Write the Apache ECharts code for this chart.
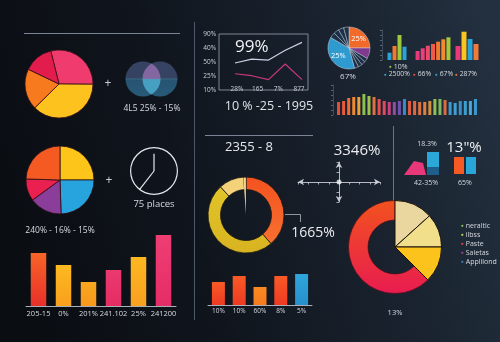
<!DOCTYPE html>
<html><head><meta charset="utf-8">
<script src="https://cdn.jsdelivr.net/npm/echarts/dist/echarts.min.js"></script>
<style>html,body{margin:0;padding:0;background:#0d1117}#c{width:500px;height:342px}</style>
</head><body><div id="c"></div>
<script>
// ---------- values ----------
const warmPie = [29, 37.5, 19.5, 14];
const trendLevels = ['10%', '25%', '50%', '40%', '90%'];
const trendTicks = ['28%', '165', '7%', '877'];
const trendSteps = ['s1', 's2', 's3', 's4', 's5'];
const trendUpper = [1.93, 2.21, 2.14, 2.84, 3.40];
const trendLower = [1.16, 1.02, 0.74, 1.86, 0.74];
const segPie = [25, 8.33, 3.1, 3.1, 3.1, 3.2, 37.5, 4.2, 4.2, 4.2, 4.07];
const segPieLabels = ['25%', '', '', '', '', '', '25%', '', '', '', ''];
const miniA = [7.3, 14, 25, 13.3];
const miniB = [9, 11.7, 14.3, 16, 18.3, 20.7, 22.7];
const miniC = [14, 28.3, 21, 16];
const miniLegendTop = ['10%'];
const miniLegendRow = ['2500%', '66%', '67%', '287%'];
const stripValues = [13, 14, 17, 18, 18, 21, 19, 18, 16, 14, 13, 13, 14, 16, 14, 14, 13, 13, 14, 16, 16, 15, 13, 12, 14, 14, 14, 16];
const vennSets = [[17, 18], [34, 18]];
const vennOverlap = [[25.5, 18]];
const quadPie = [25, 24.5, 15.5, 10.5, 24.5];
const clockHands = [0, 7.26];
const barCats = ['205-15', '0%', '201%', '241.102', '25%', '241200'];
const barValues = [53, 41, 24, 36, 49, 71];
const ringValues = [38.6, 49.7, 10.8, 0.9];
const needleValues = [1, 99];
const smallCats = ['10%', '10%', '60%', '8%', '5%'];
const smallValues = [23, 29, 18, 29, 31];
const bigWedges = [13.3, 11.7, 12.5];
const bigRingShare = 62.5;
const legendNames = ['neraltic', 'ilbss', 'Paste', 'Saletas', 'Applilond'];
const wedgeShape = [[0, 0], [10, 14], [19, 12], [22, 0]];
const splitBar = [8, 15];
const pairBars = [17, 17];
const crossCenter = [[0, 0]];

// ---------- palette ----------
const FONT = "'Open Sans', 'Noto Sans', sans-serif";
const TXT = '#d6d9df';
const warmColors = ['#ef3b6e', '#fdc21e', '#f77a1f', '#e21d4d'];
const segColors = ['#f26a2a', '#7d3a8e', '#1d3048', '#1d3048', '#1d3048', '#1d3048', '#2e9ad0', '#1d3048', '#1d3048', '#1d3048', '#1d3048'];
const quadColors = ['#fdc419', '#27a3dd', '#8a3e9a', '#ea2050', '#f55a23'];
const miniAColors = ['#2aa3d9', '#f07a2e', '#9cc83c', '#2aa3d9'];
const miniBColors = ['#e8397a', '#e8407a', '#ec4a6a', '#f05a48', '#f27a30', '#f28a2e', '#a6c83a'];
const miniCColors = ['#e8397a', '#f8c61e', '#2aa3d9', '#f07a3a'];
const miniLegendColors = ['#8cc84a', '#3aa0d8', '#e8504a', '#3aa0d8', '#f07a3a'];
const stripColors = ['#e0503a', '#e85a3a', '#f06a35', '#f08a30', '#e8a040', '#8cc050', '#a0c050', '#e07040',
  '#e05050', '#e04a60', '#c84080', '#9050a0', '#7050b0', '#3a8ac8', '#e05a40', '#e06a40', '#e07040', '#e08040',
  '#d09040', '#90c050', '#80b860', '#e06a40', '#3a9ad0', '#40a0d0', '#3a90c8', '#3aa0d0', '#4aa8d8', '#3a9ad0'];
const barGrad = [['#f86428', '#e8302a'], ['#fcba20', '#f8a01e'], ['#f9a81e', '#f8981c'], ['#ea3a70', '#e42c62'], ['#fcb820', '#f8a020'], ['#ee3e74', '#e62c66']];
const smallGrad = [['#f85a26', '#ee3a22'], ['#f85a26', '#ee3a22'], ['#fa8a22', '#f67a1e'], ['#f85a26', '#ee3a22'], ['#2ea6dc', '#2690cc']];
const legendColors = ['#8cc850', '#cfd86a', '#e04a6a', '#9a4aa8', '#3a8ac8'];

const lin = (a, b) => ({ type: 'linear', x: 0, y: 0, x2: 0, y2: 1, colorStops: [{ offset: 0, color: a }, { offset: 1, color: b }] });
const hidden = { show: false };

const grid = [], xAxis = [], yAxis = [], series = [];
function addGrid(g, x, y) {
  const i = grid.length;
  grid.push(Object.assign({ containLabel: false, outerBoundsMode: 'none' }, g));
  xAxis.push(Object.assign({ gridIndex: i }, x));
  yAxis.push(Object.assign({ gridIndex: i }, y));
  return i;
}
const bareValue = (min, max) => ({ type: 'value', min, max, show: false });
const bareCat = (data, gap) => ({ type: 'category', data, boundaryGap: gap, show: false });

// ---------- trend panel ----------
addGrid({ left: 219, top: 34, width: 89, height: 56, show: true, borderColor: '#9aa3b2', borderWidth: 0.8 },
  bareValue(0, 1),
  { type: 'value', min: 0, max: 4, interval: 1, axisLine: hidden, axisTick: hidden, splitLine: hidden,
    axisLabel: { color: '#c9ced8', fontSize: 6.5, margin: 3, fontFamily: FONT, formatter: v => trendLevels[v] } });
const gTrend = addGrid({ left: 235, top: 34, width: 67, height: 56 }, bareCat(trendSteps, false), bareValue(0, 4));
series.push({ type: 'line', xAxisIndex: gTrend, yAxisIndex: gTrend, data: trendUpper, showSymbol: false,
  lineStyle: { color: '#cfd0e6', width: 1.2 }, silent: true });
series.push({ type: 'line', xAxisIndex: gTrend, yAxisIndex: gTrend, data: trendLower, showSymbol: false,
  lineStyle: { color: '#c8387e', width: 1.2 }, silent: true });
addGrid({ left: 237, top: 34, width: 62, height: 50 },
  { type: 'category', data: trendTicks, boundaryGap: false, axisLine: hidden, axisTick: hidden,
    axisLabel: { color: '#c9ced8', fontSize: 6.5, margin: 2, fontFamily: FONT } },
  bareValue(0, 1));

// ---------- mini bar groups ----------
const gA = addGrid({ left: 387, top: 30, width: 20, height: 30 }, bareCat(miniA.map((_, i) => 'a' + i), true),
  { type: 'value', min: 0, max: 30, interval: 5, offset: 5, axisLine: { show: true, lineStyle: { color: '#5a6a80', width: 0.6 } },
    axisTick: { show: true, length: 2, lineStyle: { color: '#8090a4', width: 0.6 } }, axisLabel: hidden, splitLine: hidden });
series.push({ type: 'bar', xAxisIndex: gA, yAxisIndex: gA, barWidth: 4, silent: true,
  data: miniA.map((v, i) => ({ value: v, itemStyle: { color: miniAColors[i] } })) });
const gB = addGrid({ left: 415, top: 30, width: 36, height: 30 }, bareCat(miniB.map((_, i) => 'b' + i), true), bareValue(0, 30));
series.push({ type: 'bar', xAxisIndex: gB, yAxisIndex: gB, barWidth: 4, silent: true,
  data: miniB.map((v, i) => ({ value: v, itemStyle: { color: miniBColors[i] } })) });
const gC = addGrid({ left: 455, top: 30, width: 24, height: 30 }, bareCat(miniC.map((_, i) => 'c' + i), true), bareValue(0, 30));
series.push({ type: 'bar', xAxisIndex: gC, yAxisIndex: gC, barWidth: 5, silent: true,
  data: miniC.map((v, i) => ({ value: v, itemStyle: { color: miniCColors[i] } })) });

// ---------- thin strip ----------
const gS = addGrid({ left: 336, top: 85, width: 142, height: 30 }, bareCat(stripValues.map((_, i) => 's' + i), true),
  { type: 'value', min: 0, max: 30, interval: 5, offset: 3, axisLine: { show: true, lineStyle: { color: '#55657a', width: 0.6 } },
    axisTick: { show: true, length: 2, lineStyle: { color: '#8090a4', width: 0.6 } }, axisLabel: hidden, splitLine: hidden });
series.push({ type: 'bar', xAxisIndex: gS, yAxisIndex: gS, barWidth: 3, silent: true,
  data: stripValues.map((v, i) => ({ value: v, itemStyle: { color: stripColors[i] } })) });

// ---------- venn ----------
const vennFill = { type: 'linear', x: 0, y: 0, x2: 0, y2: 1, colorStops: [
  { offset: 0, color: '#3d4a6e' }, { offset: 0.46, color: '#3d4a6e' }, { offset: 0.5, color: '#3b7090' },
  { offset: 0.54, color: '#2a5f80' }, { offset: 1, color: '#2c6888' }] };
const lensFill = { type: 'linear', x: 0, y: 0, x2: 0, y2: 1, colorStops: [
  { offset: 0, color: '#8a6aa6' }, { offset: 0.48, color: '#8a6aa6' }, { offset: 0.52, color: '#4aa6c8' }, { offset: 1, color: '#4aa6c8' }] };
const gV = addGrid({ left: 126, top: 61, width: 51, height: 36 }, bareValue(0, 51), bareValue(0, 36));
series.push({ type: 'scatter', xAxisIndex: gV, yAxisIndex: gV, data: vennSets, symbolSize: 35, silent: true,
  itemStyle: { color: vennFill, opacity: 0.85 } });
series.push({ type: 'scatter', xAxisIndex: gV, yAxisIndex: gV, data: vennOverlap, silent: true,
  symbol: 'path://M9,0 A17.5,17.5 0 0,1 9,30.6 A17.5,17.5 0 0,1 9,0 Z', symbolSize: [18, 31],
  itemStyle: { color: lensFill, opacity: 0.9 } });

// ---------- bottom-left bars ----------
const gBar = addGrid({ left: 26, top: 226, width: 150, height: 80 },
  { type: 'category', data: barCats, axisLine: { lineStyle: { color: '#aab0ba', width: 1 } }, axisTick: hidden,
    axisLabel: { color: TXT, fontSize: 7.5, margin: 4, fontFamily: FONT, interval: 0 } },
  bareValue(0, 80));
series.push({ type: 'bar', xAxisIndex: gBar, yAxisIndex: gBar, barWidth: 15.5, silent: true,
  data: barValues.map((v, i) => ({ value: v, itemStyle: { color: lin(barGrad[i][0], barGrad[i][1]) } })) });

// ---------- crosshair ----------
const crossAxis = (min, max) => ({ type: 'value', min, max, interval: 1,
  axisLine: { show: true, onZero: true, symbol: ['arrow', 'arrow'], symbolSize: [5, 6], lineStyle: { color: '#c8ccd4', width: 0.9 } },
  axisTick: { show: true, length: 2.5, lineStyle: { color: '#c8ccd4', width: 0.8 } }, axisLabel: hidden, splitLine: hidden });
const gX = addGrid({ left: 298, top: 162, width: 82, height: 40 }, crossAxis(-4, 4), crossAxis(-2, 2));
series.push({ type: 'scatter', xAxisIndex: gX, yAxisIndex: gX, data: crossCenter, symbolSize: 5, silent: true,
  itemStyle: { color: '#f2f4f6' } });

// ---------- bottom-middle bars ----------
const gSm = addGrid({ left: 208, top: 270, width: 104, height: 35 },
  { type: 'category', data: smallCats, axisLine: { lineStyle: { color: '#aab0ba', width: 1 } }, axisTick: hidden,
    axisLabel: { color: TXT, fontSize: 6.5, margin: 3, fontFamily: FONT, interval: 0 } },
  bareValue(0, 35));
series.push({ type: 'bar', xAxisIndex: gSm, yAxisIndex: gSm, barWidth: 13, silent: true,
  data: smallValues.map((v, i) => ({ value: v, itemStyle: { color: lin(smallGrad[i][0], smallGrad[i][1]) } })) });

// ---------- right-middle shapes ----------
const gW = addGrid({ left: 404, top: 150, width: 40, height: 25 }, bareValue(0, 40), bareValue(0, 25));
series.push({ type: 'line', xAxisIndex: gW, yAxisIndex: gW, data: wedgeShape, showSymbol: false, silent: true,
  lineStyle: { width: 0 }, areaStyle: { color: '#e8387a', opacity: 1 } });
const gSb = addGrid({ left: 427, top: 150, width: 12, height: 25 }, bareCat(['x'], true), bareValue(0, 25));
series.push({ type: 'bar', xAxisIndex: gSb, yAxisIndex: gSb, stack: 'sb', barWidth: 12, silent: true,
  data: [splitBar[0]], itemStyle: { color: '#1d5f8a' } });
series.push({ type: 'bar', xAxisIndex: gSb, yAxisIndex: gSb, stack: 'sb', barWidth: 12, silent: true,
  data: [splitBar[1]], itemStyle: { color: '#2aa8d8' } });
const gP = addGrid({ left: 453, top: 150, width: 24, height: 24 }, bareCat(['o', 'b'], true), bareValue(0, 24));
series.push({ type: 'bar', xAxisIndex: gP, yAxisIndex: gP, barWidth: 10, silent: true,
  data: [{ value: pairBars[0], itemStyle: { color: '#f55a25' } }, { value: pairBars[1], itemStyle: { color: '#2aa5d8' } }] });

// ---------- pies ----------
series.push({ type: 'pie', center: [59, 84], radius: 34, startAngle: 104, silent: true, label: hidden,
  itemStyle: { borderColor: '#3a0f18', borderWidth: 0.8 },
  data: warmPie.map((v, i) => ({ value: v, itemStyle: { color: warmColors[i] } })) });
series.push({ type: 'pie', center: [349, 48], radius: 21, startAngle: 90, silent: true,
  itemStyle: { borderColor: '#c8d2de', borderWidth: 0.5 },
  label: { show: true, position: 'inside', color: '#ffffff', fontSize: 7.5, fontFamily: FONT, formatter: p => segPieLabels[p.dataIndex] },
  labelLine: hidden,
  data: segPie.map((v, i) => ({ value: v, itemStyle: { color: segColors[i] } })) });
series.push({ type: 'pie', center: [60, 180], radius: 34, startAngle: 90, silent: true, label: hidden,
  itemStyle: { borderColor: '#2a0f14', borderWidth: 0.8 },
  data: quadPie.map((v, i) => ({ value: v, itemStyle: { color: quadColors[i] } })) });
const ringColors = [lin('#f4521f', '#f87030'), lin('#e2c42a', '#d8b420'), '#f3d27a', '#f3d890'];
series.push({ type: 'pie', center: [246, 215], radius: [25.5, 38], startAngle: 90, silent: true, label: hidden,
  itemStyle: { borderColor: '#1c1a14', borderWidth: 0.8 },
  data: ringValues.map((v, i) => ({ value: v, itemStyle: { color: ringColors[i] } })) });
series.push({ type: 'pie', center: [246, 215], radius: [0, 37], startAngle: 94, silent: true, label: hidden,
  data: [{ value: needleValues[0], itemStyle: { color: '#f0d890' } }, { value: needleValues[1], itemStyle: { color: 'rgba(0,0,0,0)' } }] });
const wedgeColors = ['#ead7a0', '#f2df8c', '#fcc31d'];
series.push({ type: 'pie', center: [395, 247], radius: [27, 46.5], startAngle: 90, silent: true, label: hidden,
  data: [{ value: 100 - bigRingShare, itemStyle: { color: 'rgba(0,0,0,0)' } },
         { value: bigRingShare, itemStyle: { color: lin('#f2521e', '#e81c50'), borderColor: '#3a0a10', borderWidth: 0.6 } }] });
series.push({ type: 'pie', center: [395, 247], radius: [0, 46.5], startAngle: 90, silent: true, label: hidden,
  data: bigWedges.map((v, i) => ({ value: v, itemStyle: { color: wedgeColors[i], borderColor: '#1a1208', borderWidth: 1 } }))
    .concat([{ value: bigRingShare, itemStyle: { color: 'rgba(0,0,0,0)', borderWidth: 0 } }]) });

// ---------- clock ----------
[[clockHands[0], '72%'], [clockHands[1], '100%']].forEach(([h, len], k) => {
  series.push({ type: 'gauge', center: [154, 171], radius: 24, startAngle: 90, endAngle: -270, min: 0, max: 12, silent: true,
    axisLine: { show: k === 0, lineStyle: { width: 1.2, color: [[1, '#e6e8ec']] } },
    axisTick: hidden, splitLine: hidden, axisLabel: hidden, progress: hidden,
    pointer: { icon: 'rect', length: len, width: 1.2, offsetCenter: [0, 0] }, itemStyle: { color: '#e6e8ec' },
    anchor: hidden, title: hidden, detail: hidden, data: [{ value: h }] });
});

// ---------- text and rules ----------
const text = (t, x, y, size, opts) => ({ type: 'text', x, y, silent: true,
  style: Object.assign({ text: t, fill: TXT, font: size + 'px ' + FONT, textAlign: 'center', textVerticalAlign: 'middle', verticalAlign: 'middle' }, opts || {}) });
const rule = (x1, y1, x2, y2, c) => ({ type: 'line', silent: true, shape: { x1, y1, x2, y2 }, style: { stroke: c || '#5d6878', lineWidth: 1 } });

const graphic = [
  rule(194.5, 22, 194.5, 320, '#4e5868'),
  rule(24, 33.5, 180, 33.5, '#7a8494'),
  rule(205, 135.5, 313, 135.5, '#7a8494'),
  rule(393.5, 126, 393.5, 201, '#6a7484'),
  { type: 'polyline', silent: true, shape: { points: [[285, 214.5], [300.5, 214.5], [300.5, 222]] }, style: { stroke: '#b0b4bc', lineWidth: 0.8, fill: null } },
  text('+', 108, 84, 12, { fill: '#c8ccd4' }),
  text('+', 109, 181, 12, { fill: '#c8ccd4' }),
  text('4L5 25% - 15%', 152, 109, 8.5),
  text('99%', 235, 47, 17, { textAlign: 'left', fill: '#f2f3f5' }),
  text('10 % -25 - 1995', 269, 106, 12.5, { fill: '#e2e4e8' }),
  text('67%', 348, 77, 8),
  text('240% - 16% - 15%', 60, 231, 8.5),
  text('75 places', 154, 204, 9.5),
  text('2355 - 8', 249, 147, 13, { fill: '#e6e8ec' }),
  text('3346%', 357, 151, 15, { fill: '#eceef0' }),
  text('18.3%', 427, 144, 7),
  text('13"%', 464, 148, 15, { fill: '#eceef0' }),
  text('42-35%', 426, 183, 7),
  text('65%', 465, 183, 7),
  text('1665%', 313, 233, 14, { fill: '#eceef0' }),
  text('13%', 395, 313, 7.5)
];
const bullet = (label, x, y, color, size) => text('{d|\u25CF} ' + label, x, y, size,
  { textAlign: 'left', rich: { d: { fill: color, fontSize: size * 0.7 } } });
graphic.push(bullet(miniLegendTop[0], 389, 67, miniLegendColors[0], 7));
const rowX = [384, 413, 435, 455];
miniLegendRow.forEach((t, i) => graphic.push(bullet(t, rowX[i], 74.5, miniLegendColors[i + 1], 6.8)));
legendNames.forEach((t, i) => graphic.push(bullet(t, 461, 226 + i * 9, legendColors[i], 7)));

const chart = echarts.init(document.getElementById('c'), null, { renderer: 'canvas' });
chart.setOption({
  animation: false,
  backgroundColor: { type: 'linear', x: 0, y: 0.6, x2: 1, y2: 0.2, colorStops: [
    { offset: 0, color: '#0a0d12' }, { offset: 0.35, color: '#10151d' }, { offset: 0.7, color: '#19222e' }, { offset: 1, color: '#23303f' }] },
  textStyle: { fontFamily: FONT },
  grid, xAxis, yAxis, series, graphic
});
</script>
</body></html>
